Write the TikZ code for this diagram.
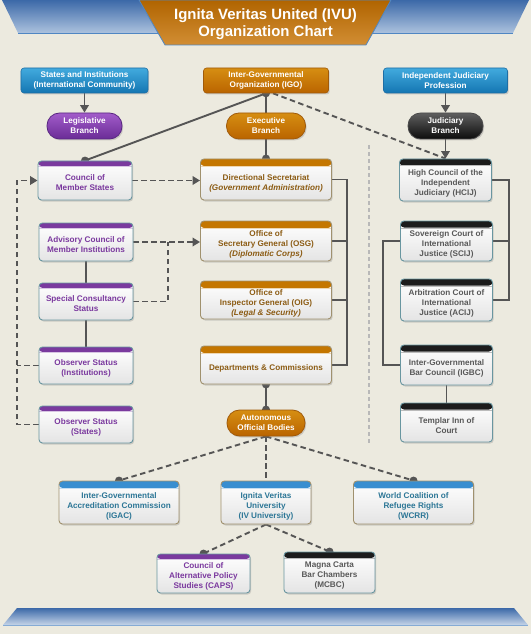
\documentclass[tikz,border=0pt]{standalone}
\usepackage{fontspec}
\setmainfont{Liberation Sans}
\usetikzlibrary{arrows.meta,shadows,calc}
\pgfdeclarelayer{bgl}
\pgfdeclarelayer{edges}
\pgfsetlayers{bgl,edges,main}

\definecolor{bg}{RGB}{236,234,223}
\definecolor{lnc}{RGB}{85,85,85}
\definecolor{purT}{RGB}{122,56,158}
\definecolor{oraT}{RGB}{140,92,20}
\definecolor{grayT}{RGB}{88,88,88}
\definecolor{tealT}{RGB}{44,118,150}
\definecolor{purH}{RGB}{122,58,158}
\definecolor{oraH}{RGB}{196,118,0}
\definecolor{blkH}{RGB}{28,28,28}
\definecolor{bluH}{RGB}{56,142,208}
\definecolor{tealB}{RGB}{105,150,160}
\definecolor{tanB}{RGB}{160,145,110}
\definecolor{cardbot}{RGB}{228,228,228}
\definecolor{blueTop}{RGB}{66,170,222}
\definecolor{blueBot}{RGB}{20,118,178}
\definecolor{blueBdr}{RGB}{30,110,165}
\definecolor{oraTop}{RGB}{214,142,18}
\definecolor{oraBot}{RGB}{186,100,0}
\definecolor{oraBdr}{RGB}{160,90,10}
\definecolor{purTop}{RGB}{162,92,202}
\definecolor{purBot}{RGB}{106,44,150}
\definecolor{purBdr}{RGB}{90,40,130}
\definecolor{blkTop}{RGB}{95,95,95}
\definecolor{blkBot}{RGB}{12,12,12}
\definecolor{bnTop}{RGB}{60,105,168}
\definecolor{bnBot}{RGB}{172,194,222}
\definecolor{bnLine}{RGB}{80,135,195}
\definecolor{tiTop}{RGB}{176,100,0}
\definecolor{tiBot}{RGB}{210,142,52}

\tikzset{
  ln/.style={draw=lnc, line width=1.9bp},
  dsh/.style={ln, dash pattern=on 5.5bp off 3.5bp},
  arr/.style={-{Triangle[length=7.5bp,width=8.5bp]}},
  dot/.style={circle, fill=lnc, inner sep=0pt, minimum size=8bp},
  shd/.style={drop shadow={shadow xshift=1.2bp, shadow yshift=-1.5bp, opacity=0.3}},
  card/.style={rectangle, rounded corners=3.5bp, line width=0.9bp, top color=white,
    bottom color=cardbot, inner sep=0pt, shd},
  hdr/.style 2 args={path picture={
    \fill[#1] (path picture bounding box.north west) rectangle ([yshift=-#2]path picture bounding box.north east);
    \draw[#1!30!white, line width=0.7bp] ([yshift=-#2-0.35bp]path picture bounding box.north west) -- ([yshift=-#2-0.35bp]path picture bounding box.north east);}},
  lcard/.style={card, draw=tealB, hdr={purH}{5bp}, minimum width=94bp},
  mcard/.style={card, draw=tanB, hdr={oraH}{7bp}, minimum width=131bp},
  rcard/.style={card, draw=tealB, hdr={blkH}{6.5bp}, minimum width=92bp},
  bcard/.style={card, draw=tanB, hdr={bluH}{7bp}, minimum height=43bp},
  txt/.style={font=\fontsize{8.2}{10}\selectfont\bfseries, align=center, inner sep=0pt},
  ptxt/.style={txt, text=purT},
  otxt/.style={txt, text=oraT},
  gtxt/.style={txt, text=grayT},
  ttxt/.style={txt, text=tealT},
  topbox/.style={rectangle, rounded corners=3bp, line width=0.6bp, minimum height=25bp,
    txt, text=white, shd},
  pill/.style={rectangle, rounded corners=12.5bp, line width=0.8bp, minimum height=26bp,
    txt, text=white, shd},
}

\begin{document}
\begin{tikzpicture}[x=1bp,y=-1bp]
\useasboundingbox (0,0) rectangle (531,634);
\begin{pgfonlayer}{bgl}
  \fill[bg] (0,0) rectangle (531,634);
\end{pgfonlayer}

% banners
\path[top color=bnTop, bottom color=bnBot] (2,0) -- (529,0) -- (513,33) -- (18,33) -- cycle;
\draw[bnLine, line width=0.8bp] (18,33) -- (513,33);
\path[top color=tiTop, bottom color=tiBot, draw=bnLine, line width=0.8bp]
  (139,0) -- (391,0) -- (366,45) -- (165,45) -- cycle;
\node[font=\fontsize{15}{17}\selectfont\bfseries, text=white, align=center] (title) at (265.5,24)
  {Ignita Veritas United (IVU)\\Organization Chart};
\path[top color=bnTop, bottom color=bnBot!70!white] (17,608) -- (514,608) -- (528,625) -- (3,625) -- cycle;
\draw[bnLine!70!white, line width=0.6bp] (3,625) -- (528,625);

% top row
\node[topbox, top color=blueTop, bottom color=blueBot, draw=blueBdr, minimum width=127bp] (sti) at (84.5,80.5)
  {States and Institutions\\(International Community)};
\node[topbox, top color=oraTop, bottom color=oraBot, draw=oraBdr, minimum width=125bp] (igo) at (266,80.5)
  {Inter-Governmental\\Organization (IGO)};
\node[topbox, top color=blueTop, bottom color=blueBot, draw=blueBdr, minimum width=124bp] (ijp) at (445.5,80.5)
  {Independent Judiciary\\Profession};

% branches
\node[pill, top color=purTop, bottom color=purBot, draw=purBdr, minimum width=75bp] (leg) at (84.5,126) {Legislative\\Branch};
\node[pill, top color=oraTop, bottom color=oraBot, draw=oraBdr, minimum width=79bp] (exe) at (266,126) {Executive\\Branch};
\node[pill, top color=blkTop, bottom color=blkBot, draw=black!70, minimum width=75bp] (jud) at (445.5,126) {Judiciary\\Branch};

% left column
\node[lcard, minimum height=39bp] (cms) at (85,180.5) {};
\node[ptxt] (cms-t) at ([yshift=-2.5bp]cms.center) {Council of\\Member States};
\node[lcard, minimum height=38bp] (acmi) at (86,242) {};
\node[ptxt] (acmi-t) at ([yshift=-2.5bp]acmi.center) {Advisory Council of\\Member Institutions};
\node[lcard, minimum height=37bp] (scs) at (86,301.5) {};
\node[ptxt] (scs-t) at ([yshift=-2.5bp]scs.center) {Special Consultancy\\Status};
\node[lcard, minimum height=37bp] (osi) at (86,365.5) {};
\node[ptxt] (osi-t) at ([yshift=-2.5bp]osi.center) {Observer Status\\(Institutions)};
\node[lcard, minimum height=37bp] (oss) at (86,424.5) {};
\node[ptxt] (oss-t) at ([yshift=-2.5bp]oss.center) {Observer Status\\(States)};

% middle column
\node[mcard, minimum height=41bp] (ds) at (266,179.5) {};
\node[otxt] (ds-t) at ([yshift=-3.5bp]ds.center) {Directional Secretariat\\\textit{(Government Administration)}};
\node[mcard, minimum height=40bp] (osg) at (266,241) {};
\node[otxt] (osg-t) at ([yshift=-3.5bp]osg.center) {Office of\\Secretary General (OSG)\\\textit{(Diplomatic Corps)}};
\node[mcard, minimum height=38bp] (oig) at (266,300) {};
\node[otxt] (oig-t) at ([yshift=-3.5bp]oig.center) {Office of\\Inspector General (OIG)\\\textit{(Legal \& Security)}};
\node[mcard, minimum height=38bp] (dc) at (266,365) {};
\node[otxt] (dc-t) at ([yshift=-3.5bp]dc.center) {Departments \& Commissions};
\node[pill, top color=oraTop, bottom color=oraBot, draw=oraBdr, minimum width=78bp] (auto) at (266,423) {Autonomous\\Official Bodies};

% right column
\node[rcard, minimum height=42bp] (hcij) at (445.5,180) {};
\node[gtxt] (hcij-t) at ([yshift=-3.25bp]hcij.center) {High Council of the\\Independent\\Judiciary (HCIJ)};
\node[rcard, minimum height=40bp] (scij) at (446.5,241) {};
\node[gtxt] (scij-t) at ([yshift=-3.25bp]scij.center) {Sovereign Court of\\International\\Justice (SCIJ)};
\node[rcard, minimum height=42bp] (acij) at (446.5,300) {};
\node[gtxt] (acij-t) at ([yshift=-3.25bp]acij.center) {Arbitration Court of\\International\\Justice (ACIJ)};
\node[rcard, minimum height=40bp] (igbc) at (446.5,365) {};
\node[gtxt] (igbc-t) at ([yshift=-3.25bp]igbc.center) {Inter-Governmental\\Bar Council (IGBC)};
\node[rcard, minimum height=39bp] (tmp) at (446.5,422.5) {};
\node[gtxt] (tmp-t) at ([yshift=-3.25bp]tmp.center) {Templar Inn of\\Court};

% bottom
\node[bcard, minimum width=120bp] (igac) at (119,502.5) {};
\node[ttxt] (igac-t) at ([yshift=-3.5bp]igac.center) {Inter-Governmental\\Accreditation Commission\\(IGAC)};
\node[bcard, minimum width=90bp] (ivu) at (266,502.5) {};
\node[ttxt] (ivu-t) at ([yshift=-3.5bp]ivu.center) {Ignita Veritas\\University\\(IV University)};
\node[bcard, minimum width=120bp] (wcrr) at (413.5,502.5) {};
\node[ttxt] (wcrr-t) at ([yshift=-3.5bp]wcrr.center) {World Coalition of\\Refugee Rights\\(WCRR)};
\node[card, draw=tealB, hdr={purH}{5bp}, minimum width=93bp, minimum height=39bp] (caps) at (203.5,573.5) {};
\node[ptxt] (caps-t) at ([yshift=-2.5bp]caps.center) {Council of\\Alternative Policy\\Studies (CAPS)};
\node[card, draw=tealB, hdr={blkH}{6bp}, minimum width=91bp, minimum height=41bp] (mcbc) at (329.5,572.5) {};
\node[gtxt] (mcbc-t) at ([yshift=-3bp]mcbc.center) {Magna Carta\\Bar Chambers\\(MCBC)};

% helper coordinates
\coordinate (lx) at (17,300);
\coordinate (jx) at (168,300);
\coordinate (mx) at (347,300);
\coordinate (qx) at (383,300);
\coordinate (rx) at (509,300);
\coordinate (g1) at (369,145);
\coordinate (g2) at (369,443);

\begin{pgfonlayer}{edges}
  \draw[black!28, line width=1.2bp, dash pattern=on 4bp off 3bp] (g1) -- (g2);
  % top arrows
  \draw[ln,arr] (sti.south) -- (leg.north);
  \draw[ln,arr] (ijp.south) -- (jud.north);
  \draw[dsh] ([xshift=7bp]igo.south) -- (hcij.north);
  \draw[ln,arr] (jud.south) -- (hcij.north);
  \draw[ln] (igo.south) -- (exe.north);
  \draw[ln] (exe.south) -- (ds.north);
  \draw[ln] (igo.south) -- (cms.north);
  \node[dot] (d-igo) at (igo.south) {};
  \node[dot] (d-ds) at (ds.north) {};
  \node[dot] (d-cms) at (cms.north) {};
  % left
  \draw[dsh,arr] (oss.west) -- (oss.west -| lx) |- (cms.west);
  \draw[dsh] (osi.west) -- (osi.west -| lx);
  \draw[ln] (acmi.south) -- (scs.north);
  \draw[ln] (scs.south) -- (osi.north);
  \draw[dsh,arr] (cms.east) -- (cms.east -| ds.west);
  \draw[dsh,arr] (acmi.east) -- (acmi.east -| osg.west);
  \draw[dsh] (scs.east) -| (jx |- acmi.east);
  % middle bracket
  \draw[ln] (ds.east) -- (ds.east -| mx) -- (dc.east -| mx) -- (dc.east);
  \draw[ln] (osg.east) -- (osg.east -| mx);
  \draw[ln] (oig.east) -- (oig.east -| mx);
  \draw[ln] (dc.south) -- (auto.north);
  \node[dot] (d-dc) at (dc.south) {};
  \node[dot] (d-auto) at (auto.north) {};
  % right brackets
  \draw[ln] (hcij.east) -- (hcij.east -| rx) -- (acij.east -| rx) -- (acij.east);
  \draw[ln] (scij.east) -- (scij.east -| rx);
  \draw[ln] (scij.west) -- (scij.west -| qx) -- (igbc.west -| qx) -- (igbc.west);
  \draw[ln] (igbc.south) -- (tmp.north);
  % bottom
  \draw[dsh] (auto.south) -- (igac.north);
  \draw[dsh] (auto.south) -- (ivu.north);
  \draw[dsh] (auto.south) -- (wcrr.north);
  \node[dot] (d-igac) at (igac.north) {};
  \node[dot] (d-wcrr) at (wcrr.north) {};
  \draw[dsh] (ivu.south) -- (caps.north);
  \draw[dsh] (ivu.south) -- (mcbc.north);
  \node[dot] (d-caps) at (caps.north) {};
  \node[dot] (d-mcbc) at (mcbc.north) {};
\end{pgfonlayer}
\end{tikzpicture}
\end{document}
